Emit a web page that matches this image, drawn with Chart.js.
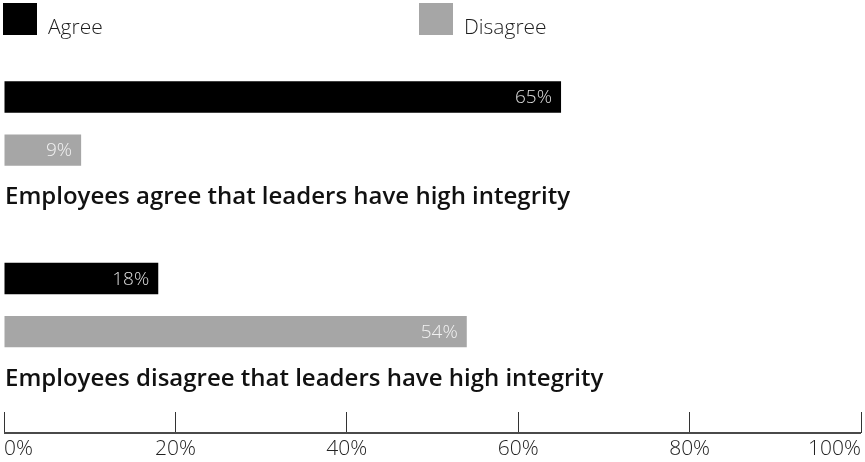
<!DOCTYPE html>
<html>
<head>
<meta charset="utf-8">
<script src="https://cdn.jsdelivr.net/npm/chart.js@4.4.1/dist/chart.umd.min.js"></script>
<style>
  html, body { margin: 0; padding: 0; background: #ffffff; }
  #wrap { width: 865px; height: 462px; }
</style>
</head>
<body>
<div id="wrap"><canvas id="c" width="865" height="462"></canvas></div>
<script>
// ---- data ----
const categories = [
  "Employees agree that leaders have high integrity",
  "Employees disagree that leaders have high integrity"
];
const seriesNames = ["Agree", "Disagree"];
const agreeValues = [65, 18];
const disagreeValues = [9, 54];
const xTickValues = [0, 20, 40, 60, 80, 100];

// ---- styles ----
const FONT = '"Open Sans", "Noto Sans", sans-serif';
const seriesColors = ["#000000", "#a6a6a6"];
const valueLabelColors = ["#dedede", "#f2f2f2"];

// custom top legend (reads dataset labels/colours)
const topLegend = {
  id: 'topLegend',
  afterDraw(chart) {
    const ctx = chart.ctx;
    const itemX = [3, 419];
    ctx.save();
    chart.data.datasets.forEach((ds, i) => {
      ctx.fillStyle = ds.backgroundColor;
      ctx.fillRect(itemX[i], 3, 34, 32);
      ctx.fillStyle = '#1e1e1e';
      ctx.font = '300 21px ' + FONT;
      ctx.textBaseline = 'middle';
      ctx.textAlign = 'left';
      ctx.fillText(ds.label, itemX[i] + 45, 28);
    });
    ctx.restore();
  }
};

// value labels inside bar ends
const valueLabels = {
  id: 'valueLabels',
  afterDatasetsDraw(chart) {
    const ctx = chart.ctx;
    ctx.save();
    ctx.font = '300 19px ' + FONT;
    ctx.textAlign = 'right';
    ctx.textBaseline = 'middle';
    chart.data.datasets.forEach((ds, di) => {
      const meta = chart.getDatasetMeta(di);
      meta.data.forEach((el, i) => {
        ctx.fillStyle = valueLabelColors[di];
        ctx.fillText(ds.data[i].x + '%', el.x - 9, el.y + 1);
      });
    });
    ctx.restore();
  }
};

// group (category) labels under each pair of bars, plus the axis base line
const groupLabels = {
  id: 'groupLabels',
  afterDraw(chart) {
    const ctx = chart.ctx;
    const y = chart.scales.y;
    const x = chart.scales.x;
    ctx.save();
    ctx.font = '600 24px ' + FONT;
    ctx.fillStyle = '#111111';
    ctx.textAlign = 'left';
    ctx.textBaseline = 'middle';
    categories.forEach((c, i) => {
      ctx.fillText(c, x.left + 1, y.getPixelForValue(i) + 74);
    });
    // axis base line under the tick marks
    const lineY = chart.chartArea.bottom + 21;
    ctx.strokeStyle = '#4a4a4a';
    ctx.lineWidth = 2;
    ctx.beginPath();
    ctx.moveTo(x.left, lineY);
    ctx.lineTo(x.right, lineY);
    ctx.stroke();
    ctx.restore();
  }
};

new Chart(document.getElementById('c'), {
  type: 'bar',
  data: {
    datasets: [
      {
        label: seriesNames[0],
        data: agreeValues.map((v, i) => ({ x: v, y: i })),
        backgroundColor: seriesColors[0]
      },
      {
        label: seriesNames[1],
        data: disagreeValues.map((v, i) => ({ x: v, y: i })),
        backgroundColor: seriesColors[1]
      }
    ]
  },
  options: {
    indexAxis: 'y',
    responsive: false,
    animation: false,
    layout: { padding: { top: 60, left: 4, right: 4, bottom: 0 } },
    datasets: { bar: { categoryPercentage: 0.6226, barPercentage: 0.59 } },
    scales: {
      y: {
        type: 'linear',
        bounds: 'data',
        offset: false,
        grid: { offset: false },
        reverse: true,
        min: -0.3499,
        max: 1.5895,
        display: false,
        ticks: { stepSize: 1, includeBounds: false }
      },
      x: {
        type: 'linear',
        position: 'bottom',
        min: xTickValues[0],
        max: xTickValues[xTickValues.length - 1],
        border: { display: false },
        grid: { drawOnChartArea: false, drawTicks: true, tickLength: 21, color: '#333333', lineWidth: 1 },
        afterBuildTicks(scale) { scale.ticks = xTickValues.map(v => ({ value: v })); },
        afterFit(scale) {
          scale.height = 50;
          scale.paddingLeft = 0;
          scale.paddingRight = 0;
        },
        ticks: {
          align: 'inner',
          padding: 6,
          color: '#222222',
          font: { family: FONT, size: 21, weight: '300', lineHeight: 1.0 },
          callback: v => v + '%'
        }
      }
    },
    plugins: { legend: { display: false }, tooltip: { enabled: false } }
  },
  plugins: [topLegend, valueLabels, groupLabels]
});
</script>
</body>
</html>
